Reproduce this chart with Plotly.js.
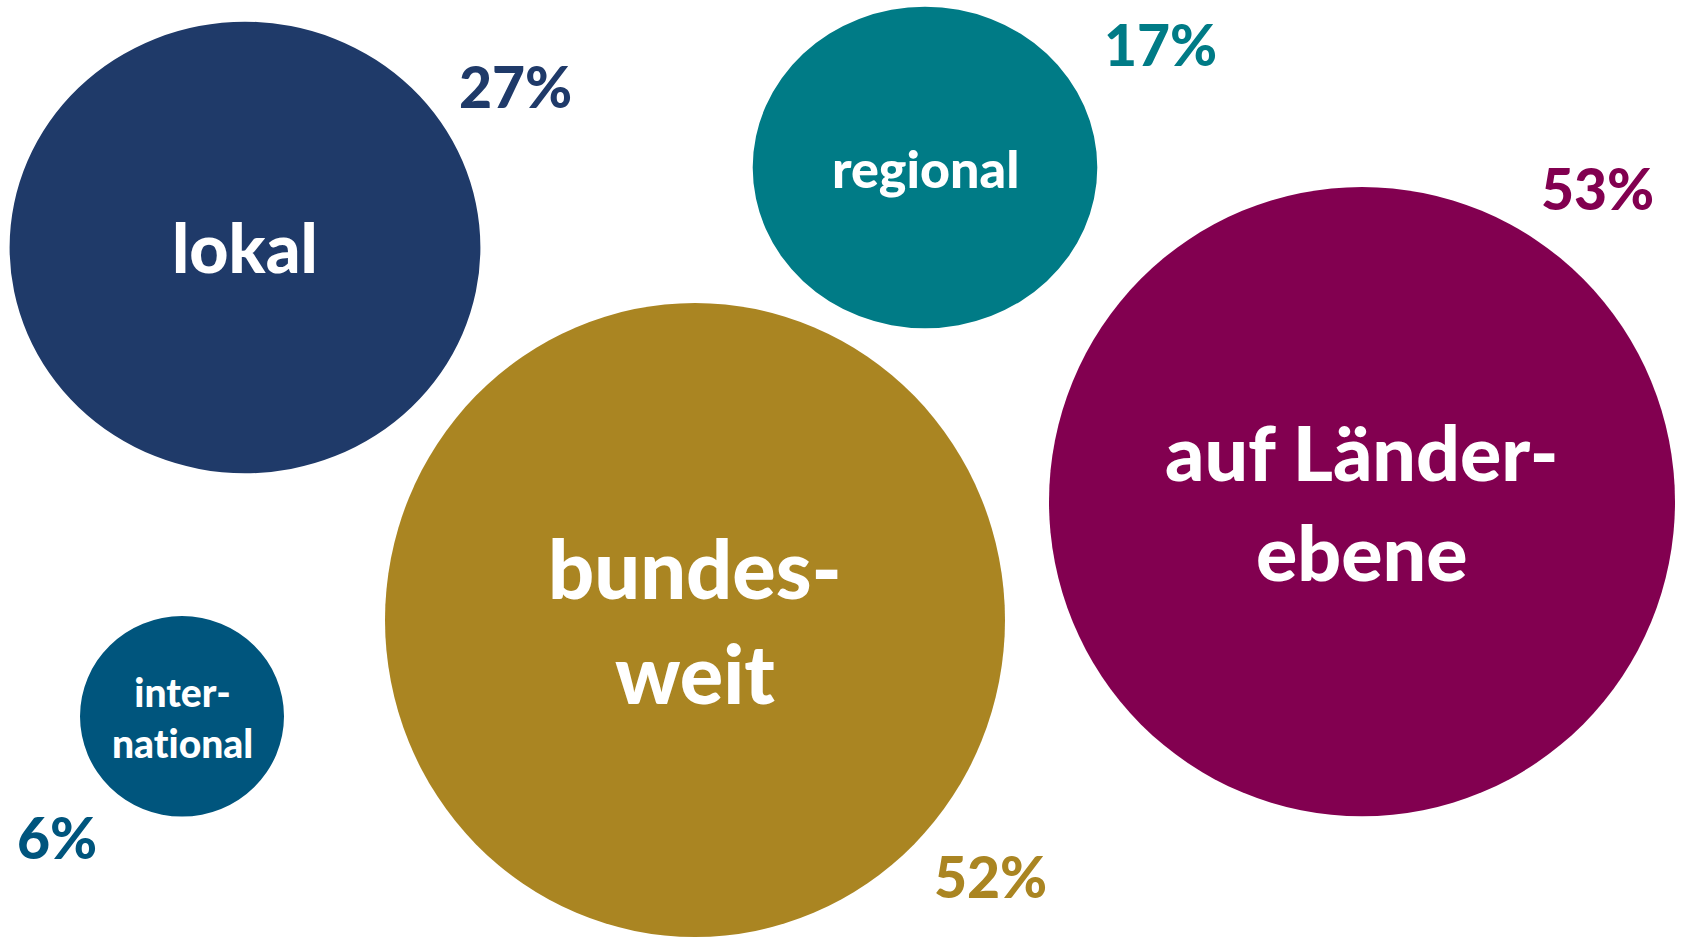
<!DOCTYPE html>
<html>
<head>
<meta charset="utf-8">
<script src="https://cdn.plot.ly/plotly-3.0.1.min.js"></script>
<style>
  html, body { margin: 0; padding: 0; background: #ffffff; }
  #chart { width: 1684px; height: 937px; }
</style>
</head>
<body>
<div id="chart"></div>
<script>
// ---- data ----
const categories = ["lokal", "regional", "bundesweit", "auf Länderebene", "international"];
const labels = ["lokal", "regional", "bundes-<br>weit", "auf Länder-<br>ebene", "inter-<br>nat\u200Cional"];
const values = [27, 17, 52, 53, 6];

// ---- layout geometry (pixels in a 1684 x 937 canvas) ----
const bubbleX  = [245, 925, 695, 1362, 182];
const bubbleY  = [247.5, 167.5, 620, 501.6, 716.3];
const radiusX  = [235.4, 172.3, 310, 313, 102];
const radiusY  = [225.8, 160.8, 317, 314.7, 100.3];
const labelSize = [68, 52, 81, 77, 39];
const labelY   = [246, 168, 620, 501, 717];
const pctX     = [515, 1160, 990, 1597, 57];
const pctY     = [86, 44, 876, 188, 837];
const colors   = ["#1F3A69", "#007B86", "#AA8522", "#820050", "#00557D"];

const FONT = "Lato, 'Open Sans', sans-serif";

const shapes = [];
const annotations = [];
for (let i = 0; i < categories.length; i++) {
  shapes.push({
    type: "circle", xref: "x", yref: "y",
    x0: bubbleX[i] - radiusX[i], x1: bubbleX[i] + radiusX[i],
    y0: bubbleY[i] - radiusY[i], y1: bubbleY[i] + radiusY[i],
    fillcolor: colors[i], line: { width: 0 }, layer: "below"
  });
  annotations.push({
    xref: "x", yref: "y", x: bubbleX[i], y: labelY[i],
    text: labels[i], showarrow: false,
    xanchor: "center", yanchor: "middle", align: "center",
    font: { family: FONT, size: labelSize[i], color: "#ffffff", weight: 900 }
  });
  annotations.push({
    xref: "x", yref: "y", x: pctX[i], y: pctY[i],
    text: values[i] + "%", showarrow: false,
    xanchor: "center", yanchor: "middle",
    font: { family: FONT, size: 57, color: colors[i], weight: 900 }
  });
}

const trace = {
  type: "scatter", mode: "markers",
  x: bubbleX, y: bubbleY,
  text: categories.map((c, i) => c + ": " + values[i] + "%"),
  hoverinfo: "text",
  marker: { size: 1, opacity: 0 },
  showlegend: false
};

const layout = {
  width: 1684, height: 937,
  margin: { l: 0, r: 0, t: 0, b: 0 },
  paper_bgcolor: "#ffffff", plot_bgcolor: "#ffffff",
  xaxis: { range: [0, 1684], visible: false, fixedrange: true },
  yaxis: { range: [937, 0], visible: false, fixedrange: true },
  shapes: shapes,
  annotations: annotations,
  showlegend: false
};

Plotly.newPlot("chart", [trace], layout, { displayModeBar: false, staticPlot: true });
</script>
</body>
</html>
